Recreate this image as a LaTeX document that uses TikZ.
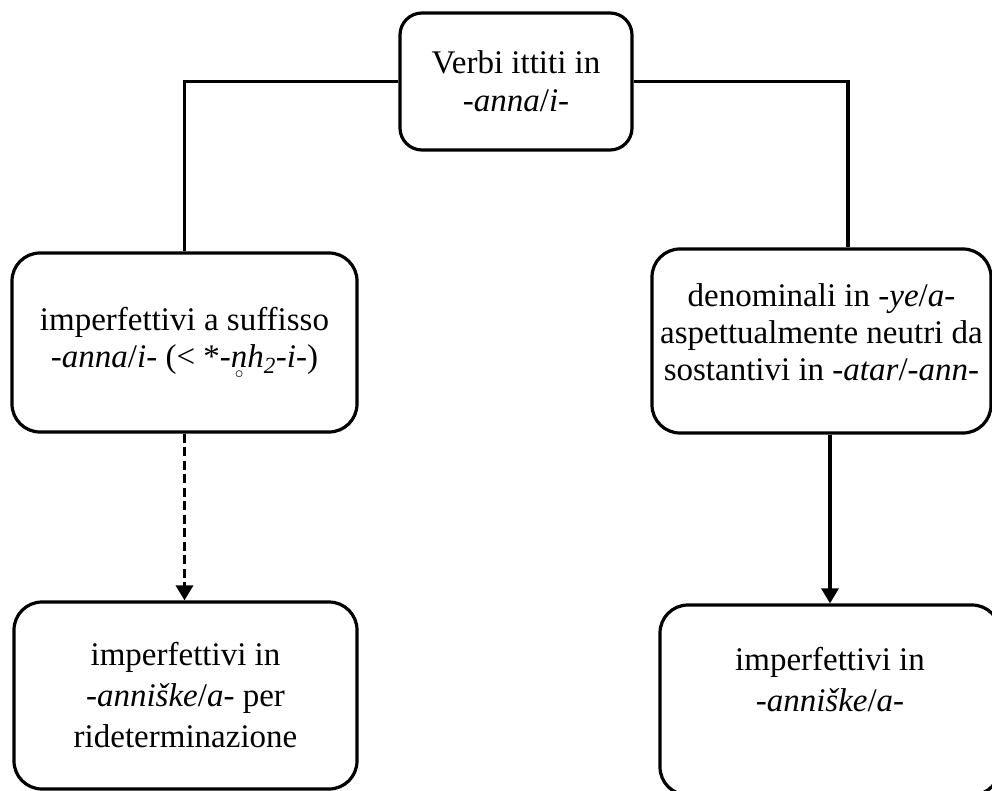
\documentclass[tikz,border=0pt]{standalone}
\usepackage{fontspec}
\setmainfont{Liberation Serif}
\usetikzlibrary{arrows.meta,calc}
\newcommand{\nring}{\ooalign{n\cr\hidewidth\raisebox{-0.34em}{$\scriptscriptstyle\circ$}\hidewidth\cr}}
\tikzset{
  box/.style={draw, line width=3.2pt, rounded corners=28pt, align=center, inner sep=0pt,
    font=\fontsize{33}{37}\selectfont},
  topbox/.style={box, rounded corners=22pt, font=\fontsize{33}{38}\selectfont},
  lowbox/.style={box, font=\fontsize{33}{41}\selectfont},
  conn/.style={line width=3.2pt},
  arr/.style={line width=3.2pt, -{Triangle[length=15pt,width=17pt]}},
  dasharr/.style={arr, dash pattern=on 9pt off 4.5pt}
}
\begin{document}
\begin{tikzpicture}[x=1pt,y=-1pt]
\useasboundingbox (0,0) rectangle (992,791);
\node[topbox, minimum width=232pt, minimum height=137pt] (top) at (516,81.5)
  {Verbi ittiti in\\\textit{-anna}/\textit{i-}};
\node[box, minimum width=345pt, minimum height=179pt] (left) at (184.5,342.5)
  {imperfettivi a suffisso\\\textit{-anna}/\textit{i-} (< *\textit{-\nring h\textsubscript{2}-i-})};
\node[box, minimum width=339pt, minimum height=184pt] (right) at (821.5,341)
  {denominali in \textit{-ye}/\textit{a-}\\aspettualmente neutri da\\sostantivi in \textit{-atar}/\textit{-ann-}\\[-20pt]\mbox{}};
\node[lowbox, minimum width=343pt, minimum height=187pt] (bl) at (185.5,695.5)
  {imperfettivi in\\\textit{-anniške}/\textit{a-} per\\rideterminazione};
\node[lowbox, minimum width=340pt, minimum height=190pt] (br) at (830,700)
  {imperfettivi in\\\textit{-anniške}/\textit{a-}\\\mbox{}};
\draw[conn] (top.west) -| (left.north);
\draw[conn] (top.east) -| ([xshift=26.5pt]right.north);
\draw[dasharr] (left.south) -- (left.south |- bl.north);
\draw[arr] (right.south -| br.north) -- (br.north);
\end{tikzpicture}
\end{document}
